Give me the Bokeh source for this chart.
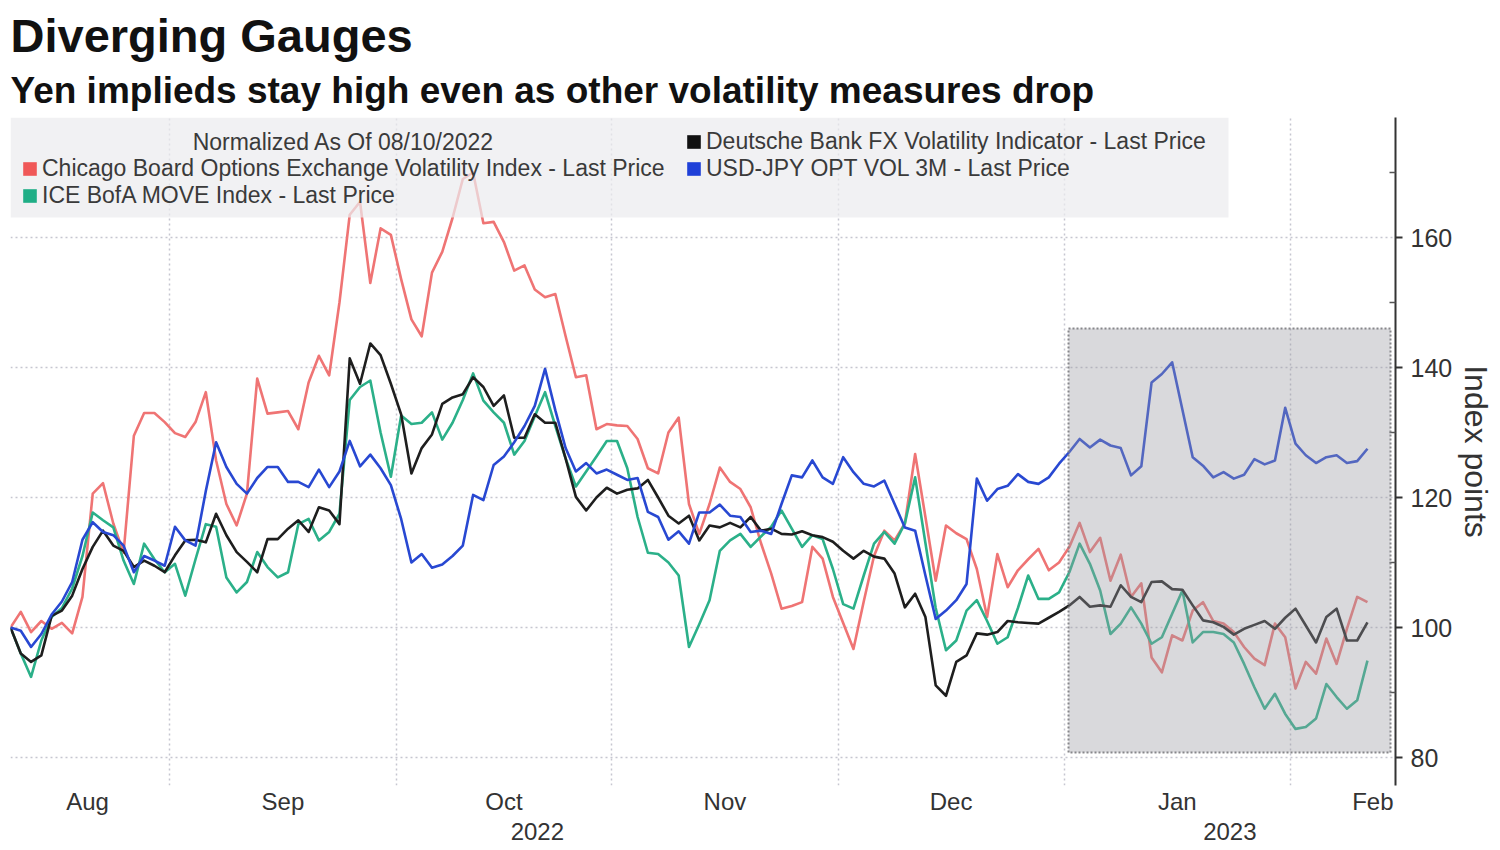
import pandas as pd
from bokeh.plotting import figure
from bokeh.models import (ColumnDataSource, FixedTicker, LinearAxis, Range1d, BoxAnnotation,
                          Legend, LegendItem, Label, Title)
from bokeh.embed import file_html
from bokeh.resources import INLINE

# ---------------- data (normalized to 100 on 08/10/2022) -------------
title_text = "Diverging Gauges"
subtitle_text = "Yen implieds stay high even as other volatility measures drop"
legend_header = "Normalized As Of 08/10/2022"
axis_label_text = "Index points"

series_names = [
    "Chicago Board Options Exchange Volatility Index - Last Price",
    "ICE BofA MOVE Index - Last Price",
    "Deutsche Bank FX Volatility Indicator - Last Price",
    "USD-JPY OPT VOL 3M - Last Price",
]

vix = [
    100, 102.4, 99.3, 101, 99.8, 100.7, 99.1, 104.7, 120.6, 122.2,
    116, 111.5, 129.5, 133, 133, 131.6, 129.9, 129.3, 131.6, 136.2,
    125.7, 119, 115.7, 120.6, 138.3, 132.9, 133.1, 133.3, 130.5, 137.7,
    141.8, 138.8, 150, 163.5, 165.5, 153, 161.4, 160.4, 153.6, 147.4,
    144.8, 154.6, 157.8, 163, 169, 170, 162.2, 162.4, 159.3, 154.9,
    155.7, 152, 150.8, 151.3, 144.8, 138.5, 138.8, 130.5, 131.3, 131.1,
    131, 129, 124.5, 123.7, 130, 132.3, 119, 114.4, 119, 124.6,
    122.4, 121.3, 118.5, 113, 108.3, 102.9, 103.3, 103.9, 112.4, 110.6,
    104.7, 100.7, 96.7, 104, 111, 114.9, 113.4, 116, 126.7, 117,
    107.2, 115.7, 114.5, 113.6, 109, 101.6, 111.3, 106.2, 108.8, 110.5,
    112.1, 108.8, 110, 112.4, 116.1, 111.6, 113.8, 107.2, 111.2, 104.7,
    106.8, 95.4, 93.1, 98.8, 98, 102.6, 103.9, 101, 100.6, 99.3,
    97, 95.2, 94.2, 100.6, 98.5, 90.6, 94.7, 92.9, 98.3, 94.4,
    99.8, 104.7, 103.9,
]

move = [
    100, 96, 92.4, 98, 101.6, 103, 106, 111, 117.7, 116.5,
    115.4, 110.3, 106.7, 112.9, 110.5, 108.5, 109.8, 104.9, 110.5, 115.9,
    115.5, 107.7, 105.4, 107, 111.6, 109.3, 107.7, 108.5, 115.9, 116.7,
    113.4, 114.7, 117.5, 135, 137, 138, 130, 123.2, 132.6, 131.3,
    131.5, 133.1, 128.9, 131.5, 135, 139.1, 134.9, 133.1, 131.5, 126.6,
    128.7, 132.5, 136.2, 131, 126, 121.7, 124, 126.3, 128.7, 128.7,
    124.5, 117, 111.5, 111.3, 110, 108, 97, 100.5, 104.2, 111.8,
    113.4, 114.4, 112.4, 114, 115.5, 118, 115.2, 112.4, 114.2, 113.6,
    109, 103.6, 102.9, 108, 112.9, 114.7, 112.9, 116, 123.1, 113,
    103, 96.5, 98, 102.6, 104.2, 101, 97.5, 98.5, 103, 108,
    104.4, 104.4, 105.4, 108.5, 112.9, 109.8, 105.7, 99, 100.6, 103.1,
    100.6, 97.5, 98.5, 102.1, 105.7, 97.7, 99.3, 99.3, 99, 97.7,
    94.4, 90.8, 87.5, 89.8, 86.7, 84.4, 84.7, 86, 91.3, 89.3,
    87.5, 88.8, 94.9,
]

dbfx = [
    100, 96, 94.7, 95.7, 101.8, 102.6, 104.9, 109, 112.4, 114.9,
    112.6, 111.8, 109.3, 110.3, 109.5, 108.5, 111.1, 113.4, 113.5, 113.1,
    117.5, 114.2, 111.6, 110.1, 108.5, 113.6, 113.6, 115.2, 116.5, 114.7,
    118.5, 118, 115.9, 141.4, 137.5, 143.7, 141.9, 137.5, 132.8, 123.7,
    127.6, 129.7, 134.4, 135.4, 135.9, 138.5, 137, 134.1, 135.7, 129.2,
    129.2, 132.8, 131.5, 131.5, 126, 120.1, 118, 120, 121.5, 120.6,
    121.2, 121.4, 122.7, 120, 117.2, 116, 117.2, 113.4, 115.7, 115.4,
    116.1, 115.4, 117, 114.9, 115.2, 114.4, 114.3, 114.8, 114.2, 113.9,
    113.2, 111.8, 110.6, 111.8, 110.9, 110.6, 108.3, 103.1, 105.2, 101.6,
    91.1, 89.5, 94.7, 95.7, 99.1, 98.9, 99.3, 101, 100.8, 100.7,
    100.6, 101.5, 102.4, 103.4, 104.7, 103.2, 103.4, 103.2, 106.5, 104.7,
    103.9, 107, 107.1, 105.9, 105.8, 103.4, 101.1, 100.8, 100.1, 98.9,
    99.8, 100.4, 101, 99.8, 101.5, 102.9, 100.3, 97.7, 101.6, 102.9,
    98, 98, 100.8,
]

usdjpy = [
    100, 99.5, 97, 99, 102, 104, 107, 113.5, 116.2, 114.7,
    114.2, 112.6, 108.5, 111, 110.3, 109.5, 115.5, 113.4, 112.6, 121,
    128.5, 124.7, 122.1, 120.6, 123, 124.7, 124.7, 122.4, 122.4, 121.6,
    124.3, 121.6, 124, 128.7, 124.8, 126.6, 124.5, 121.9, 116.7, 110,
    111.3, 109.2, 109.7, 111, 112.6, 120.4, 119.6, 125, 126.3, 128.5,
    131, 134.1, 139.8, 133.4, 127.6, 124, 125.3, 123.7, 124.3, 123.5,
    122.7, 123, 117.8, 117, 113.5, 114.8, 112.9, 117.7, 117.7, 118.9,
    117.2, 117, 114.7, 114.9, 114.4, 119, 123.4, 123.1, 125.7, 123.1,
    122.1, 126.2, 123.9, 122.1, 121.7, 122.6, 119, 115.4, 114.9, 108,
    101.3, 102.6, 104.2, 106.7, 122.9, 119.5, 121.3, 121.8, 123.6, 122.4,
    122.1, 123.1, 125.2, 127, 129, 127.7, 128.9, 128, 127.6, 123.4,
    124.8, 137.7, 139, 140.8, 133.5, 126.2, 124.9, 123.1, 123.9, 122.9,
    123.5, 125.9, 125.1, 125.7, 133.8, 128.3, 126.5, 125.3, 126.2, 126.5,
    125.3, 125.6, 127.5,
]

y_ticks = [80, 100, 120, 140, 160]
y_minor_ticks = [90, 110, 130, 150, 170]

# trading days from the normalization date
dates = pd.bdate_range("2022-08-10", periods=len(vix))
xs = list(range(len(dates)))

# ---------------- styling / geometry -------------
FONT = "Liberation Sans"
LINE_COLORS = ["#ef7474", "#2bb089", "#1e1e1e", "#2848d2"]
SWATCH_COLORS = ["#f05858", "#1fae86", "#111111", "#1f40d8"]

FRAME_L, FRAME_R, FRAME_T, FRAME_B = 10, 1395, 117, 785   # page pixels
PX_PER_DAY = 10.28
PX_PER_UNIT = 6.5
Y100_PX = 627


def px_x(px):
    return (px - FRAME_L) / PX_PER_DAY


def px_y(py):
    return 100 + (Y100_PX - py) / PX_PER_UNIT


x_end = px_x(FRAME_R)

# month boundaries / label positions from the trading-day calendar
periods = list(dates.to_period("M"))
uniq = []
for per in periods:
    if per not in uniq:
        uniq.append(per)
month_bounds, month_pos, month_lab = [], [], []
for k, per in enumerate(uniq):
    idx = [i for i, q in enumerate(periods) if q == per]
    if idx[0] > 0:
        month_bounds.append(idx[0] - 0.5)
    if k == len(uniq) - 1:
        pos = x_end - 2.2
    else:
        pos = (idx[0] + idx[-1]) / 2
    month_pos.append(round(pos, 3))
    month_lab.append(per.strftime("%b"))

year_pos, year_lab = [], []
years = sorted(set(d.year for d in dates))
for yv in years:
    idx = [i for i, d in enumerate(dates) if d.year == yv]
    lo = 0 if idx[0] == 0 else idx[0] - 0.5
    hi = x_end if idx[-1] == len(dates) - 1 else idx[-1] + 0.5
    year_pos.append(round((lo + hi) / 2, 3))
    year_lab.append(str(yv))

# ---------------- figure -------------
p = figure(frame_width=FRAME_R - FRAME_L, frame_height=FRAME_B - FRAME_T,
           x_range=Range1d(0, x_end), y_range=Range1d(px_y(FRAME_B), px_y(FRAME_T)),
           y_axis_location="right", output_backend="svg", toolbar_location=None,
           min_border_left=FRAME_L, min_border_right=103, min_border_top=FRAME_T,
           min_border_bottom=64,
           background_fill_color="white", border_fill_color="white", outline_line_color=None)

# grids
p.xgrid.ticker = FixedTicker(ticks=month_bounds)
for g in (p.xgrid, p.ygrid):
    g.grid_line_color = "#c6c6d0"
    g.grid_line_dash = "2 3"
    g.grid_line_width = 1.5

# lines
src = ColumnDataSource(dict(x=xs, vix=vix, move=move, dbfx=dbfx, usdjpy=usdjpy))
for col, c in zip(["vix", "move", "dbfx", "usdjpy"], LINE_COLORS):
    p.line("x", col, source=src, line_color=c, line_width=2.6, line_join="round")

# highlighted period
p.add_layout(BoxAnnotation(left=px_x(1068), right=px_x(1390), bottom=px_y(752), top=px_y(328),
                           fill_color="#9c9ca2", fill_alpha=0.38,
                           line_color="#7c7c80", line_alpha=0.9, line_width=2, line_dash="2 2"))

# legend background + header
p.add_layout(BoxAnnotation(left=0, right=px_x(1228), bottom=px_y(217), top=px_y(FRAME_T),
                           fill_color="#ececef", fill_alpha=0.72, line_color=None))
p.add_layout(Label(x=px_x(343), y=px_y(141), text=legend_header, text_align="center",
                   text_baseline="middle", text_font=FONT, text_font_size="23px",
                   text_color="#3a3a3a"))

# legend swatches: glyphs with a single NaN row (nothing drawn in the plot, square in legend)
nan = float("nan")
hdr = p.quad(left=[nan], right=[nan], top=[nan], bottom=[nan], fill_alpha=0, line_alpha=0)
swatches = [p.quad(left=[nan], right=[nan], top=[nan], bottom=[nan], fill_color=c, line_color=None)
            for c in SWATCH_COLORS]
items = [LegendItem(label=" ", renderers=[hdr])]
items += [LegendItem(label=n, renderers=[r]) for n, r in zip(series_names, swatches)]
legend = Legend(items=items, location="top_left", orientation="vertical", nrows=3,
                glyph_width=17, glyph_height=17, label_standoff=4, label_width=643,
                label_height=26, spacing=0, padding=11, margin=0,
                background_fill_alpha=0, border_line_alpha=0,
                label_text_font=FONT, label_text_font_size="23px", label_text_color="#3a3a3a")
p.add_layout(legend)

# right axis
ya = p.yaxis[0]
ya.ticker = FixedTicker(ticks=y_ticks, minor_ticks=y_minor_ticks)
ya.axis_line_color = "#333333"
ya.axis_line_width = 2
ya.major_tick_in = 0
ya.major_tick_out = 7
ya.major_tick_line_width = 2
ya.major_tick_line_color = "#333333"
ya.minor_tick_in = 6
ya.minor_tick_out = 0
ya.minor_tick_line_color = "#555555"
ya.minor_tick_line_width = 1.5
ya.major_label_text_font = FONT
ya.major_label_text_font_size = "25px"
ya.major_label_text_color = "#333333"
ya.major_label_standoff = 8
ya.axis_label = axis_label_text
ya.axis_label_text_font = FONT
ya.axis_label_text_font_size = "32px"
ya.axis_label_text_font_style = "normal"
ya.axis_label_text_color = "#333333"
ya.axis_label_standoff = 3

# month axis
xa = p.xaxis[0]
xa.ticker = FixedTicker(ticks=month_pos)
xa.major_label_overrides = {pos: lab for pos, lab in zip(month_pos, month_lab)}
xa.axis_line_color = None
xa.major_tick_line_color = None
xa.minor_tick_line_color = None
xa.major_tick_in = 0
xa.major_tick_out = 0
xa.minor_tick_in = 0
xa.minor_tick_out = 0
xa.major_label_standoff = 2
xa.major_label_text_font = FONT
xa.major_label_text_font_size = "24px"
xa.major_label_text_color = "#333333"

# year axis
yr = LinearAxis(ticker=FixedTicker(ticks=year_pos),
                major_label_overrides={pos: lab for pos, lab in zip(year_pos, year_lab)},
                axis_line_color=None, major_tick_line_color=None, minor_tick_line_color=None,
                major_tick_in=0, major_tick_out=0, minor_tick_in=0, minor_tick_out=0,
                major_label_standoff=5, major_label_text_font=FONT,
                major_label_text_font_size="24px", major_label_text_color="#333333")
p.add_layout(yr, "below")

# titles (last added is the top one)
p.add_layout(Title(text=subtitle_text, text_font=FONT, text_font_size="37px",
                   text_font_style="bold", text_color="#111111", align="left",
                   offset=0, standoff=13), "above")
p.add_layout(Title(text=title_text, text_font=FONT, text_font_size="47px",
                   text_font_style="bold", text_color="#111111", align="left",
                   offset=0, standoff=0), "above")

open("out.html", "w").write(file_html(p, INLINE))
